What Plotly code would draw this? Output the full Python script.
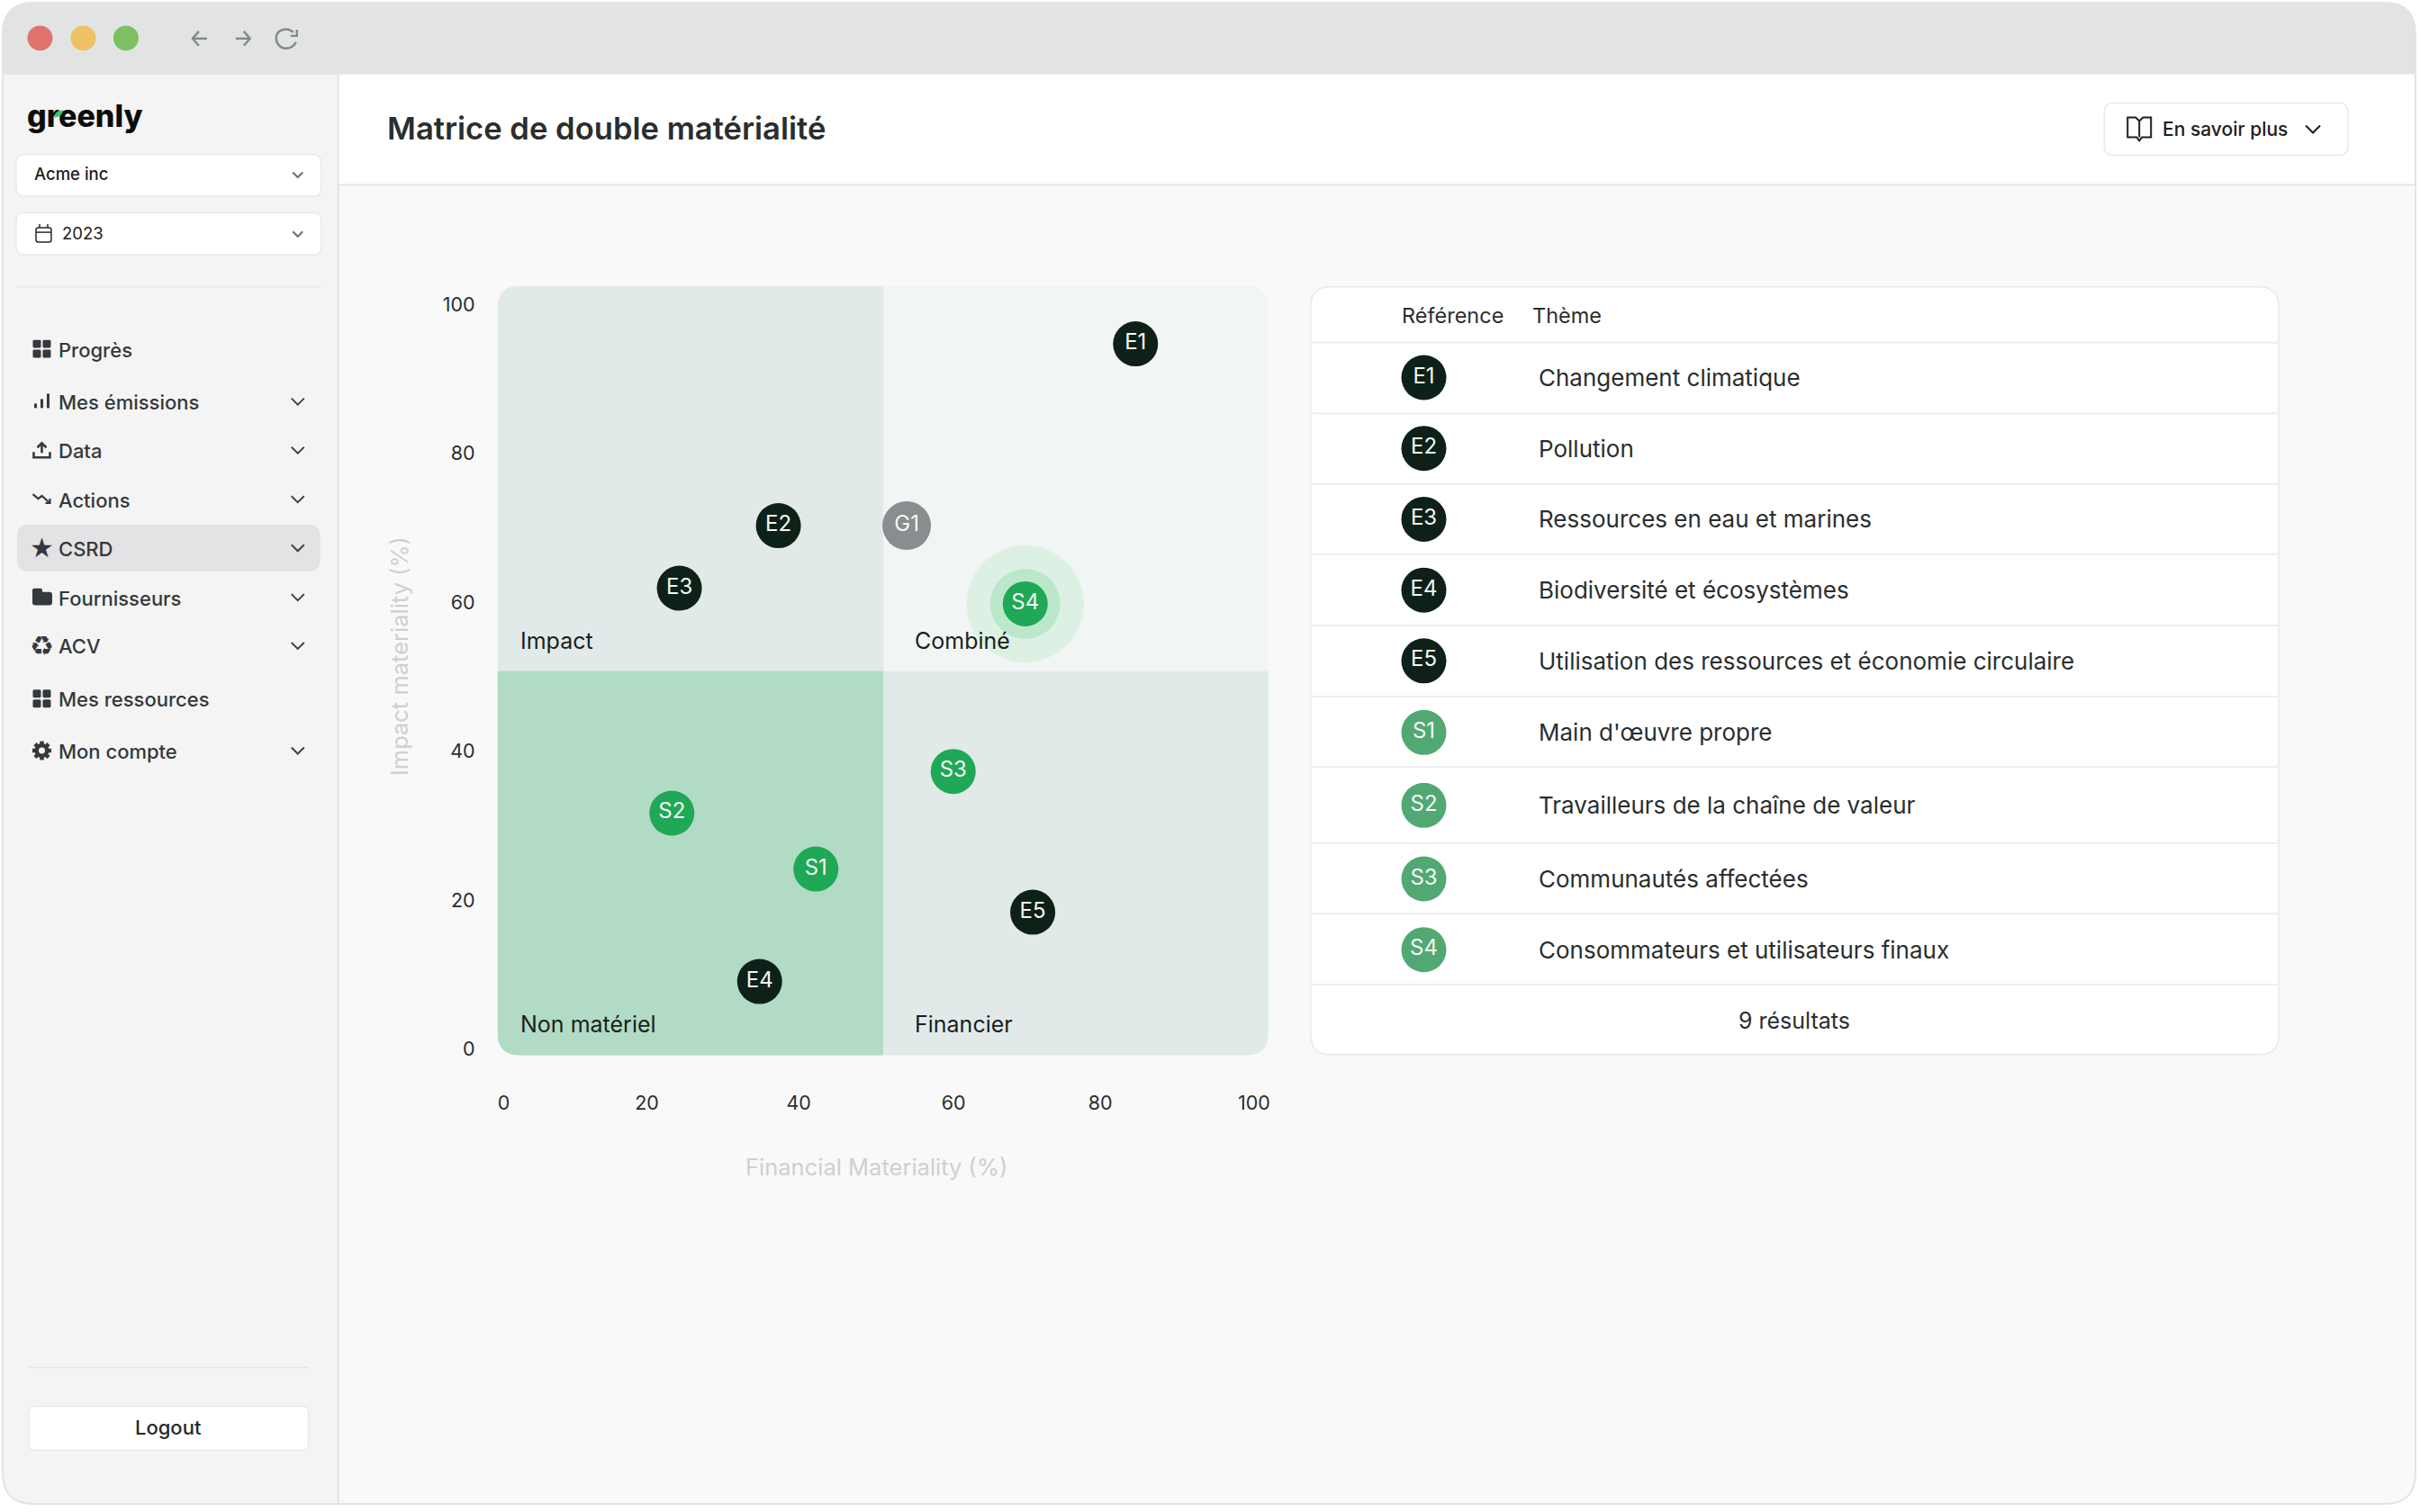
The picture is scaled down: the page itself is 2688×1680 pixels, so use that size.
import plotly.graph_objects as go

# chart values
e_refs = ["E1", "E2", "E3", "E4", "E5"]
e_financial = [84.2, 36.6, 23.4, 34.1, 70.5]
e_impact = [94.7, 70.3, 61.9, 9.1, 18.4]

s_refs = ["S1", "S2", "S3", "S4"]
s_financial = [41.6, 22.4, 59.9, 69.5]
s_impact = [24.2, 31.7, 37.3, 59.8]

g_refs = ["G1"]
g_financial = [53.7]
g_impact = [70.3]

highlight_financial = [69.5]
highlight_impact = [59.8]

quadrant_labels = ["Impact", "Combiné", "Non matériel", "Financier"]

table_refs = ["E1", "E2", "E3", "E4", "E5", "S1", "S2", "S3", "S4"]
table_themes = [
    "Changement climatique",
    "Pollution",
    "Ressources en eau et marines",
    "Biodiversité et écosystèmes",
    "Utilisation des ressources et économie circulaire",
    "Main d'œuvre propre",
    "Travailleurs de la chaîne de valeur",
    "Communautés affectées",
    "Consommateurs et utilisateurs finaux",
]

# the labels in the reference are not evenly spread along x, so they sit where they were read
x_tick_positions = [0, 19.07, 39.3, 59.95, 79.5, 100]
x_tick_labels = ["0", "20", "40", "60", "80", "100"]
y_tick_positions = [0, 20, 40, 60, 80, 100]
y_tick_labels = ["0", "20", "40", "60", "80", "100"]

menu_items = ["Progrès", "Mes émissions", "Data", "Actions", "CSRD", "Fournisseurs", "ACV", "Mes ressources", "Mon compte"]
menu_rows = [390, 448.7, 503, 557.7, 612, 667, 721, 780, 838]
menu_chevrons = [False, True, True, True, True, True, True, False, True]

# layout, in page pixels
W, H = 2688, 1680
RECT = (553, 318.7, 1410, 1177)
X_RANGE = [-0.84, 101.92]
Y_RANGE = [-0.84, 102.5]
X_SPLIT = 50.6
Y_SPLIT = 50.8
TABLE_ROWS = [421, 500, 579, 658, 737, 816.7, 898, 980, 1059]
TABLE_LINES = [382, 461, 540, 618, 697.5, 776.7, 855, 940, 1019, 1098]

FONT = "Inter"
INK = "#2a2e2e"
MENU_INK = "#35383c"
DARK = "#0e2118"
GREEN = "#1fa855"
BORDER = "#e8eaea"

shapes = []
annotations = []


def rounded(x0, y0, x1, y1, tl=0, tr=0, br=0, bl=0):
    return (
        f"M {x0 + tl} {y0} L {x1 - tr} {y0} Q {x1} {y0} {x1} {y0 + tr} "
        f"L {x1} {y1 - br} Q {x1} {y1} {x1 - br} {y1} "
        f"L {x0 + bl} {y1} Q {x0} {y1} {x0} {y1 - bl} "
        f"L {x0} {y0 + tl} Q {x0} {y0} {x0 + tl} {y0} Z"
    )


def box(x0, y0, x1, y1, fill, r=0, line=None, **corners):
    radii = dict(tl=r, tr=r, br=r, bl=r)
    radii.update(corners)
    shapes.append(dict(
        type="path", xref="x", yref="y", layer="below",
        path=rounded(x0, y0, x1, y1, **radii),
        fillcolor=fill,
        line=dict(color=line or "rgba(0,0,0,0)", width=1.5 if line else 0),
    ))


def stroke(points, cx, cy, color, width=2.4, close=False, fill=None):
    path = "M " + " L ".join(f"{cx + px} {cy + py}" for px, py in points)
    if close:
        path += " Z"
    shapes.append(dict(
        type="path", xref="x", yref="y", layer="below", path=path,
        fillcolor=fill or "rgba(0,0,0,0)",
        line=dict(color=color, width=width),
    ))


def dot(cx, cy, r, fill):
    shapes.append(dict(
        type="circle", xref="x", yref="y", layer="below",
        x0=cx - r, x1=cx + r, y0=cy - r, y1=cy + r,
        fillcolor=fill, line=dict(width=0),
    ))


def label(x, y, text, size, color=INK, anchor="left", weight=400, family=FONT, angle=0):
    # annotations carry about 2px of padding on their left side
    annotations.append(dict(
        xref="x", yref="y", x=x - 2 if anchor == "left" else x, y=y, text=text, showarrow=False,
        xanchor=anchor, yanchor="middle", textangle=angle,
        font=dict(family=family, size=size, color=color, weight=weight),
    ))


def chevron(cx, cy, color="#6b6e70", size=5.5):
    stroke([(-size, -size / 2), (0, size / 2), (size, -size / 2)], cx, cy, color, 2)


def grid_icon(cx, cy):
    for dx, dy in [(-5.5, -5.5), (5.5, -5.5), (-5.5, 5.5), (5.5, 5.5)]:
        box(cx + dx - 4.5, cy + dy - 4.5, cx + dx + 4.5, cy + dy + 4.5, MENU_INK, r=1.5)


def gear_icon(cx, cy):
    for points in [[(-10.5, 0), (10.5, 0)], [(0, -10.5), (0, 10.5)],
                   [(-7.5, -7.5), (7.5, 7.5)], [(-7.5, 7.5), (7.5, -7.5)]]:
        stroke(points, cx, cy, MENU_INK, 4.5)
    dot(cx, cy, 8, MENU_INK)
    dot(cx, cy, 3.5, "#f4f4f4")


# window frame
box(2, 2, W - 2, H - 2, "#e2e4e3", r=36)
box(4, 83, 375, H - 4, "#f4f4f4", bl=34)
box(377, 83, W - 4, H - 4, "#f9f9f9", br=34)
box(377, 83, W - 4, 206, "#ffffff")
shapes.append(dict(type="line", xref="x", yref="y", layer="below", x0=377, x1=W - 4, y0=206, y1=206,
                   line=dict(color="#e6e8e7", width=2)))

# title bar
dot(44.5, 42.5, 14, "#e0736c")
dot(92.5, 42.5, 14, "#eec165")
dot(140, 42.5, 14, "#7dc063")
stroke([(-8, 0), (8, 0)], 222, 43, "#85898b")
stroke([(-1, -8), (-8, 0), (-1, 8)], 222, 43, "#85898b")
stroke([(-8, 0), (8, 0)], 270, 43, "#85898b")
stroke([(1, -8), (8, 0), (1, 8)], 270, 43, "#85898b")
shapes.append(dict(
    type="path", xref="x", yref="y", layer="below",
    path="M 326 36 C 320 30 307 32 307 43 C 307 49 312 54 318 54 C 323 54 327 51 329 47",
    line=dict(color="#85898b", width=2.4),
))
stroke([(12, -10), (12, -3), (5, -3)], 318, 43, "#85898b")

# sidebar head, the leaf sits over the r of the logo
shapes.append(dict(
    type="path", xref="x", yref="y", layer="above",
    path="M 60 131 Q 61 123 70 123 Q 69 131 60 131 Z",
    fillcolor="#36c76b", line=dict(width=0),
))
box(18, 172, 357, 219, "#ffffff", r=9, line=BORDER)
label(38, 194, "Acme inc", 18.5, "#1d2020", weight=500)
chevron(331, 195)
box(18, 237, 357, 284, "#ffffff", r=9, line=BORDER)
box(40, 254, 57, 270, "rgba(0,0,0,0)", r=2.5, line="#26292a")
stroke([(-8.5, 0), (8.5, 0)], 48.5, 259, "#26292a", 1.5)
stroke([(0, -2), (0, 2)], 44, 252, "#26292a", 1.5)
stroke([(0, -2), (0, 2)], 53, 252, "#26292a", 1.5)
label(69, 260, "2023", 18.5, "#1d2020")
chevron(331, 261)
shapes.append(dict(type="line", xref="x", yref="y", layer="below", x0=18, x1=357, y0=320, y1=320,
                   line=dict(color="#e6e7e7", width=1.5)))

# sidebar menu
box(19, 585, 356, 637, "#e3e3e5", r=13)
for item, row, has_chevron in zip(menu_items, menu_rows, menu_chevrons):
    label(65, row, item, 22, MENU_INK, weight=500)
    if has_chevron:
        chevron(331, row - 1, "#3f4245", 7)

grid_icon(46.5, 389)
for dx, top in [(-7, 3), (0, -2), (7, -8)]:
    stroke([(dx, 8), (dx, top)], 46.5, 447, MENU_INK, 3)
stroke([(-9, 2), (-9, 8), (9, 8), (9, 2)], 46.5, 502, MENU_INK, 2.6)
stroke([(0, 3), (0, -8)], 46.5, 502, MENU_INK, 2.6)
stroke([(-5, -3), (0, -8), (5, -3)], 46.5, 502, MENU_INK, 2.6)
stroke([(-10, -5), (-4, 0), (0, -3), (9, 5)], 46.5, 556, MENU_INK, 2.2)
stroke([(9, 0), (9, 5), (4, 5)], 46.5, 556, MENU_INK, 2.2)
label(46.5, 611, "★", 30, MENU_INK, anchor="center", family="DejaVu Sans")
box(36, 660, 58, 675, MENU_INK, r=3)
box(36, 656, 47, 664, MENU_INK, r=2)
label(46.5, 720, "♻", 30, MENU_INK, anchor="center", family="DejaVu Sans", weight=700)
grid_icon(46.5, 779)
gear_icon(46.5, 837)

# sidebar foot
shapes.append(dict(type="line", xref="x", yref="y", layer="below", x0=32, x1=343, y0=1525, y1=1525,
                   line=dict(color="#e4e5e5", width=1.5)))
box(32, 1568, 343, 1617, "#ffffff", r=7, line=BORDER)
label(187, 1592, "Logout", 22, "#26292a", anchor="center", weight=500)

# page header
label(430, 143, "Matrice de double matérialité", 34.6, INK, weight=600)
box(2339, 115, 2610, 173, "#ffffff", r=10, line=BORDER)
stroke([(0, -9), (-4, -13), (-13, -13), (-13, 9), (-3, 9), (0, 13), (3, 9), (13, 9), (13, -13), (4, -13), (0, -9), (0, 9)],
       2378, 144, "#1d2020", 2)
label(2404, 144, "En savoir plus", 21, "#1d2020", weight=500)
chevron(2571, 144, "#1d2020", 8)

# table card
box(1457, 320, 2533, 1176, "#ffffff", r=22, line=BORDER)
label(1558, 352, "Référence", 23.5, INK)
label(1703, 352, "Thème", 23.5, INK)
for line_y in TABLE_LINES:
    shapes.append(dict(type="line", xref="x", yref="y", layer="below", x0=1458, x1=2532, y0=line_y, y1=line_y,
                       line=dict(color="#eceeee", width=2)))
for theme, row in zip(table_themes, TABLE_ROWS):
    label(1710, row, theme, 26, INK)
label(1994, 1138, "9 résultats", 25, INK, anchor="center")

# chart quadrants, rounded on the outer corners
x_lo, x_hi = X_RANGE
y_lo, y_hi = Y_RANGE
rx = 25 / 8.34
ry = 25 / 8.3
quadrant_paths = [
    (f"M {x_lo + rx} {y_hi} L {X_SPLIT} {y_hi} L {X_SPLIT} {Y_SPLIT} L {x_lo} {Y_SPLIT} "
     f"L {x_lo} {y_hi - ry} Q {x_lo} {y_hi} {x_lo + rx} {y_hi} Z", "#e1eae8"),
    (f"M {X_SPLIT} {y_hi} L {x_hi - rx} {y_hi} Q {x_hi} {y_hi} {x_hi} {y_hi - ry} "
     f"L {x_hi} {Y_SPLIT} L {X_SPLIT} {Y_SPLIT} Z", "#f1f5f3"),
    (f"M {x_lo} {Y_SPLIT} L {X_SPLIT} {Y_SPLIT} L {X_SPLIT} {y_lo} L {x_lo + rx} {y_lo} "
     f"Q {x_lo} {y_lo} {x_lo} {y_lo + ry} Z", "#b1dbc5"),
    (f"M {X_SPLIT} {Y_SPLIT} L {x_hi} {Y_SPLIT} L {x_hi} {y_lo + ry} Q {x_hi} {y_lo} {x_hi - rx} {y_lo} "
     f"L {X_SPLIT} {y_lo} Z", "#e1eae8"),
]
for path, fill in quadrant_paths:
    shapes.append(dict(type="path", xref="x2", yref="y2", layer="below", path=path,
                       fillcolor=fill, line=dict(width=0)))

label(578, 714.5, quadrant_labels[0], 25, "#1b1f1e")
label(1017, 714.5, quadrant_labels[1], 25, "#1b1f1e")
label(578, 1142, quadrant_labels[2], 25, "#1b1f1e")
label(1017, 1142, quadrant_labels[3], 25, "#1b1f1e")
label(974, 1301, "Financial Materiality (%)", 25.5, "#cdd0cf", anchor="center")
label(444, 732, "Impact materiality (%)", 25.5, "#cdd0cf", anchor="center", angle=-90)

fig = go.Figure()

# the logo is a text trace so that the leaf shape can draw over it
fig.add_trace(go.Scatter(
    x=[30], y=[133], text=["greenly"], mode="text",
    textposition="middle right",
    textfont=dict(family=FONT, size=34, color="#0b0d0c", weight=800),
    hoverinfo="skip",
))


def badges(xs, ys, refs, color, size=50, axes=("x2", "y2"), font_size=24):
    fig.add_trace(go.Scatter(
        x=xs, y=ys, text=refs, mode="markers+text",
        xaxis=axes[0], yaxis=axes[1],
        textposition="middle center",
        textfont=dict(family=FONT, size=font_size, color="#f4f7f5"),
        marker=dict(size=size, color=color, line=dict(width=0)),
        cliponaxis=False,
        hoverinfo="skip",
    ))


fig.add_trace(go.Scatter(x=highlight_financial, y=highlight_impact, mode="markers", xaxis="x2", yaxis="y2",
                         marker=dict(size=130, color="#dcf1e4", line=dict(width=0)), hoverinfo="skip"))
fig.add_trace(go.Scatter(x=highlight_financial, y=highlight_impact, mode="markers", xaxis="x2", yaxis="y2",
                         marker=dict(size=78, color="#bbe8cb", line=dict(width=0)), hoverinfo="skip"))
badges(e_financial, e_impact, e_refs, DARK)
badges(s_financial, s_impact, s_refs, GREEN)
badges(g_financial, g_impact, g_refs, "#8a8d8f", size=54)

# table badges, on the page axes
table_colors = [DARK if ref.startswith("E") else "#52a872" for ref in table_refs]
badges([1582.7] * len(table_refs), TABLE_ROWS, table_refs, table_colors, axes=("x", "y"))

fig.update_layout(
    width=W,
    height=H,
    margin=dict(l=0, r=0, t=0, b=0),
    paper_bgcolor="#ffffff",
    plot_bgcolor="rgba(0,0,0,0)",
    showlegend=False,
    hovermode=False,
    font=dict(family=FONT),
    shapes=shapes,
    annotations=annotations,
    xaxis=dict(domain=[0, 1], range=[0, W], visible=False, fixedrange=True),
    yaxis=dict(domain=[0, 1], range=[H, 0], visible=False, fixedrange=True),
    xaxis2=dict(
        domain=[RECT[0] / W, RECT[2] / W],
        range=X_RANGE,
        anchor="y2",
        tickvals=x_tick_positions,
        ticktext=x_tick_labels,
        ticklabelstandoff=38,
        showgrid=False,
        zeroline=False,
        fixedrange=True,
        tickangle=0,
        tickfont=dict(family=FONT, size=21.5, color=INK),
    ),
    yaxis2=dict(
        domain=[1 - RECT[3] / H, 1 - RECT[1] / H],
        range=Y_RANGE,
        anchor="x2",
        tickvals=y_tick_positions,
        ticktext=y_tick_labels,
        ticklabelstandoff=24,
        showgrid=False,
        zeroline=False,
        fixedrange=True,
        tickfont=dict(family=FONT, size=21.5, color=INK),
    ),
)

fig.write_html(
    "out.html",
    config={"displayModeBar": False},
    post_script="document.body.style.margin='0';document.body.style.overflow='hidden';",
)
